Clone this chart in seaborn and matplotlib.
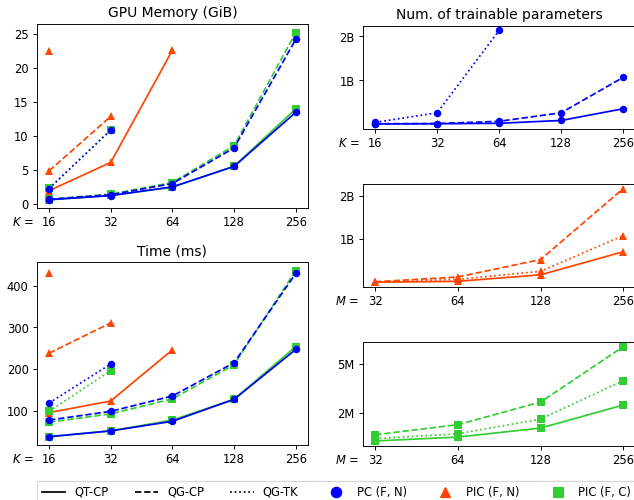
import pandas as pd
import matplotlib.pyplot as plt
import seaborn as sns
from matplotlib.lines import Line2D
from matplotlib.ticker import NullLocator

# x values
K = [16, 32, 64, 128, 256]
M = [32, 64, 128, 256]

# GPU memory (GiB)
mem_pc = {"QT-CP": [0.69, 1.28, 2.56, 5.56, 13.5],
          "QG-CP": [0.72, 1.40, 3.05, 8.27, 24.2],
          "QG-TK": [2.3, 10.9]}
mem_pic = {"QT-CP": [2.0, 6.15, 22.6],
           "QG-CP": [4.9, 12.9],
           "QG-TK": [22.5]}
mem_picc = {"QT-CP": [0.65, 1.3, 2.5, 5.6, 14.0],
            "QG-CP": [0.75, 1.5, 3.2, 8.6, 25.2],
            "QG-TK": [2.35, 10.9]}

# Time (ms)
time_pc = {"QT-CP": [37, 51, 74, 127, 247],
           "QG-CP": [77, 98, 135, 215, 430],
           "QG-TK": [118, 212]}
time_pic = {"QT-CP": [95, 123, 246],
            "QG-CP": [238, 311],
            "QG-TK": [430]}
time_picc = {"QT-CP": [37, 51, 77, 127, 254],
             "QG-CP": [72, 92, 128, 210, 437],
             "QG-TK": [98, 196]}

# trainable parameters (B for PC / PIC (F, N), M for PIC (F, C))
params_pc = {"QT-CP": [0.01, 0.015, 0.025, 0.09, 0.356],
             "QG-CP": [0.015, 0.02, 0.07, 0.265, 1.07],
             "QG-TK": [0.045, 0.265, 2.14]}
params_pic = {"QT-CP": [0.008, 0.03, 0.18, 0.71],
              "QG-CP": [0.02, 0.13, 0.53, 2.16],
              "QG-TK": [0.015, 0.076, 0.26, 1.08]}
params_picc = {"QT-CP": [0.27, 0.51, 1.06, 2.47],
               "QG-CP": [0.65, 1.27, 2.65, 6.04],
               "QG-TK": [0.41, 0.71, 1.61, 3.96]}

models = ["PC (F, N)", "PIC (F, N)", "PIC (F, C)"]
colors = {"PC (F, N)": "#0000FF", "PIC (F, N)": "#FF4500", "PIC (F, C)": "#32CD32"}
markers = {"PC (F, N)": "o", "PIC (F, N)": "^", "PIC (F, C)": "s"}
msizes = {"PC (F, N)": 6.5, "PIC (F, N)": 7.5, "PIC (F, C)": 7.5}
dashes = {"QT-CP": "", "QG-CP": (3.7, 1.6), "QG-TK": (1, 1.65)}


def to_frame(series, xs):
    rows = []
    for variant, vals in series.items():
        for x, y in zip(xs, vals):
            rows.append((x, y, variant))
    return pd.DataFrame(rows, columns=["x", "y", "variant"])


def draw(ax, panel, xs, xname):
    for model, series in panel:
        df = to_frame(series, xs)
        sns.lineplot(data=df, x="x", y="y", style="variant", dashes=dashes,
                     color=colors[model], marker=markers[model],
                     markersize=msizes[model], markeredgecolor=colors[model],
                     markeredgewidth=0, legend=False, ax=ax)
    ax.set_xscale("log", base=2)
    ax.set_xticks(xs)
    ax.set_xticklabels([str(x) for x in xs])
    ax.xaxis.set_minor_locator(NullLocator())
    ax.set_xlabel("")
    ax.set_ylabel("")
    ax.annotate(f"${xname}$ =", xy=(0, 0), xycoords="axes fraction",
                xytext=(-3, -7), textcoords="offset points",
                ha="right", va="top", fontsize=10)


W, H = 634, 500
fig = plt.figure(figsize=(7.64, 6.025), dpi=83)


def add_ax(left, top, right, bottom):
    return fig.add_axes([left / W, 1 - bottom / H, (right - left) / W, (bottom - top) / H])


ax_mem = add_ax(36.7, 24.3, 308, 208.3)
ax_time = add_ax(36.7, 262.3, 308, 445)
ax_p1 = add_ax(362.7, 25.7, 635.5, 128.7)
ax_p2 = add_ax(362.7, 184, 635.5, 287)
ax_p3 = add_ax(362.7, 342, 635.5, 445.7)

# orange first, then green, blue on top
draw(ax_mem, [("PIC (F, N)", mem_pic), ("PIC (F, C)", mem_picc), ("PC (F, N)", mem_pc)], K, "K")
ax_mem.set_title("GPU Memory (GiB)")
ax_mem.set_yticks([0, 5, 10, 15, 20, 25])

draw(ax_time, [("PIC (F, N)", time_pic), ("PIC (F, C)", time_picc), ("PC (F, N)", time_pc)], K, "K")
ax_time.set_title("Time (ms)")
ax_time.set_yticks([100, 200, 300, 400])

draw(ax_p1, [("PC (F, N)", params_pc)], K, "K")
ax_p1.set_title("Num. of trainable parameters")
ax_p1.set_yticks([1, 2])
ax_p1.set_yticklabels(["1B", "2B"])

draw(ax_p2, [("PIC (F, N)", params_pic)], M, "M")
ax_p2.set_yticks([1, 2])
ax_p2.set_yticklabels(["1B", "2B"])

draw(ax_p3, [("PIC (F, C)", params_picc)], M, "M")
ax_p3.set_yticks([2, 5])
ax_p3.set_yticklabels(["2M", "5M"])

handles = [Line2D([], [], color="black", ls="-", lw=1.5),
           Line2D([], [], color="black", ls="--", lw=1.5),
           Line2D([], [], color="black", ls=":", lw=1.5)]
labels = ["QT-CP", "QG-CP", "QG-TK"]
for m in models:
    handles.append(Line2D([], [], ls="", marker=markers[m], color=colors[m], ms=9))
    labels.append(m)

fig.legend(handles, labels, loc="upper left", bbox_to_anchor=(37 / W, 1 - 481 / H),
           ncol=6, borderaxespad=0, columnspacing=2.3)

fig.savefig("out.png", dpi=83)
